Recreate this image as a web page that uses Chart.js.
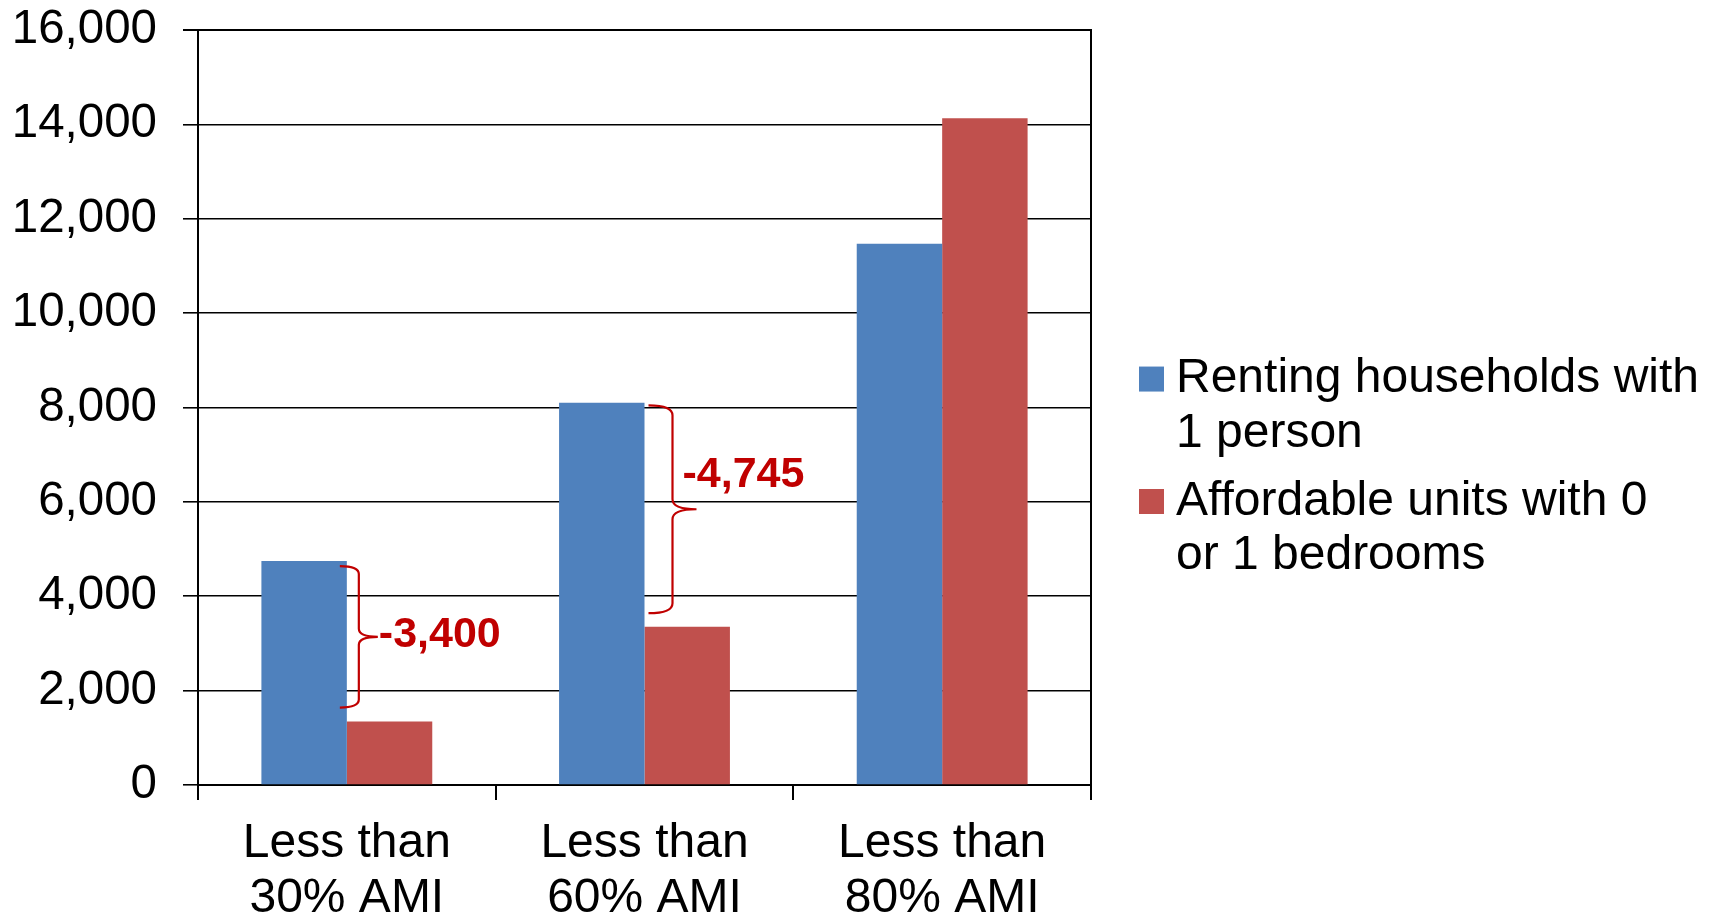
<!DOCTYPE html>
<html><head><meta charset="utf-8">
<script src="https://cdn.jsdelivr.net/npm/chart.js@4.4.1/dist/chart.umd.min.js"></script>
<style>html,body{margin:0;padding:0;background:#fff;} canvas{display:block;}</style>
</head><body>
<canvas id="c" width="1715" height="915"></canvas>
<script>
// ---- data ----
const categories = [['Less than', '30% AMI'], ['Less than', '60% AMI'], ['Less than', '80% AMI']];
const seriesNames = [['Renting households with', '1 person'], ['Affordable units with 0', 'or 1 bedrooms']];
const renterHouseholds = [4745, 8100, 11470];
const affordableUnits = [1345, 3355, 14130];
const yTicks = [0, 2000, 4000, 6000, 8000, 10000, 12000, 14000, 16000];
const gapCategoryIndex = [0, 1];
const gapLabels = ['-3,400', '-4,745'];

// ---- style ----
const FONT = "'Liberation Sans', Arial, sans-serif";
const BLUE = '#4F81BD', RED = '#C0504D', ANNOT = '#C00000';
const LEGEND_W = 577, RIGHT_GAP = 47;
const braceStyle = [
  {tip: -7, spine: 12, point: 31, topInset: 5, bottomInset: 14, labelDx: 32, labelDy: -2, r: 4},
  {tip: 4, spine: 28, point: 52, topInset: 2.5, bottomInset: 13.5, labelDx: 38, labelDy: -34, r: 5}
];

function zeroPad(s) { s.paddingTop = 0; s.paddingBottom = 0; s.paddingLeft = 0; s.paddingRight = 0; }

const legendWidthPlugin = {
  id: 'legendWidth',
  beforeUpdate(chart) {
    const lg = chart.legend;
    if (lg && !lg._wrappedFit) {
      const f = lg.fit;
      lg.fit = function() { f.call(this); this.width = LEGEND_W; };
      lg._wrappedFit = true;
    }
  }
};

const gapPlugin = {
  id: 'gaps',
  afterDatasetsDraw(chart) {
    const ctx = chart.ctx;
    const mBlue = chart.getDatasetMeta(0), mRed = chart.getDatasetMeta(1);
    gapCategoryIndex.forEach((ci, k) => {
      const s = braceStyle[k];
      const b = mBlue.data[ci].getProps(['x', 'y', 'width'], true);
      const rd = mRed.data[ci].getProps(['x', 'y', 'width'], true);
      const right = b.x + b.width / 2;
      const xTip = right + s.tip, xSp = right + s.spine, xPt = right + s.point;
      const yTop = b.y + s.topInset, yBot = rd.y - s.bottomInset, yMid = (yTop + yBot) / 2;
      const r = s.r;
      ctx.save();
      ctx.strokeStyle = ANNOT;
      ctx.lineWidth = 2.2;
      ctx.beginPath();
      ctx.moveTo(xTip, yTop);
      ctx.quadraticCurveTo(xSp, yTop, xSp, yTop + r * 2);
      ctx.lineTo(xSp, yMid - r * 2);
      ctx.quadraticCurveTo(xSp, yMid, xPt, yMid);
      ctx.moveTo(xPt, yMid);
      ctx.quadraticCurveTo(xSp, yMid, xSp, yMid + r * 2);
      ctx.lineTo(xSp, yBot - r * 2);
      ctx.quadraticCurveTo(xSp, yBot, xTip, yBot);
      ctx.stroke();
      ctx.fillStyle = ANNOT;
      ctx.font = "bold 43px " + FONT;
      ctx.textAlign = 'left';
      ctx.textBaseline = 'middle';
      ctx.fillText(gapLabels[k], right + s.labelDx, yMid + s.labelDy);
      ctx.restore();
    });
  }
};

new Chart(document.getElementById('c'), {
  type: 'bar',
  data: {
    labels: categories,
    datasets: [
      {label: seriesNames[0].join(' '), data: renterHouseholds, backgroundColor: BLUE, borderWidth: 0},
      {label: seriesNames[1].join(' '), data: affordableUnits, backgroundColor: RED, borderWidth: 0}
    ]
  },
  options: {
    responsive: false,
    animation: false,
    events: [],
    layout: {padding: {top: 30, bottom: 3, left: 0, right: 0}},
    datasets: {bar: {categoryPercentage: 0.574, barPercentage: 1}},
    scales: {
      x: {
        grid: {display: true, offset: true, drawOnChartArea: false, drawTicks: true, tickLength: 15, color: '#000', lineWidth: 2},
        border: {display: true, color: '#000', width: 2},
        ticks: {color: '#000', font: {family: FONT, size: 48, lineHeight: 1.13}, padding: 17, maxRotation: 0, autoSkip: false},
        afterFit(s) { s.height = 127; zeroPad(s); }
      },
      y: {
        min: 0, max: 16000,
        afterBuildTicks(s) { s.ticks = yTicks.map(v => ({value: v})); },
        grid: {color: '#000', lineWidth: c => (c.index === yTicks.length - 1 ? 2 : 1.6), tickLength: 15, drawTicks: true},
        border: {display: true, color: '#000', width: 2},
        ticks: {color: '#000', font: {family: FONT, size: 47.5}, padding: 26, callback: v => v.toLocaleString('en-US')},
        afterFit(s) { s.width = 198; zeroPad(s); }
      },
      yRight: {
        type: 'linear', position: 'right', min: 0, max: 16000, display: true,
        grid: {drawOnChartArea: false, drawTicks: false},
        ticks: {display: false},
        border: {display: true, color: '#000', width: 2},
        afterFit(s) { s.width = RIGHT_GAP; zeroPad(s); }
      }
    },
    plugins: {
      tooltip: {enabled: false},
      legend: {
        position: 'right', align: 'center',
        labels: {
          font: {family: FONT, size: 48, lineHeight: 1.14},
          color: '#000',
          usePointStyle: true, pointStyle: 'rect',
          boxWidth: 1, boxHeight: 25, padding: 13,
          generateLabels(chart) {
            return chart.data.datasets.map((ds, i) => ({
              text: seriesNames[i], fillStyle: ds.backgroundColor, strokeStyle: ds.backgroundColor,
              lineWidth: 0, hidden: false, datasetIndex: i, pointStyle: 'rect', fontColor: '#000'
            }));
          }
        }
      }
    }
  },
  plugins: [legendWidthPlugin, gapPlugin]
});
</script>
</body></html>
